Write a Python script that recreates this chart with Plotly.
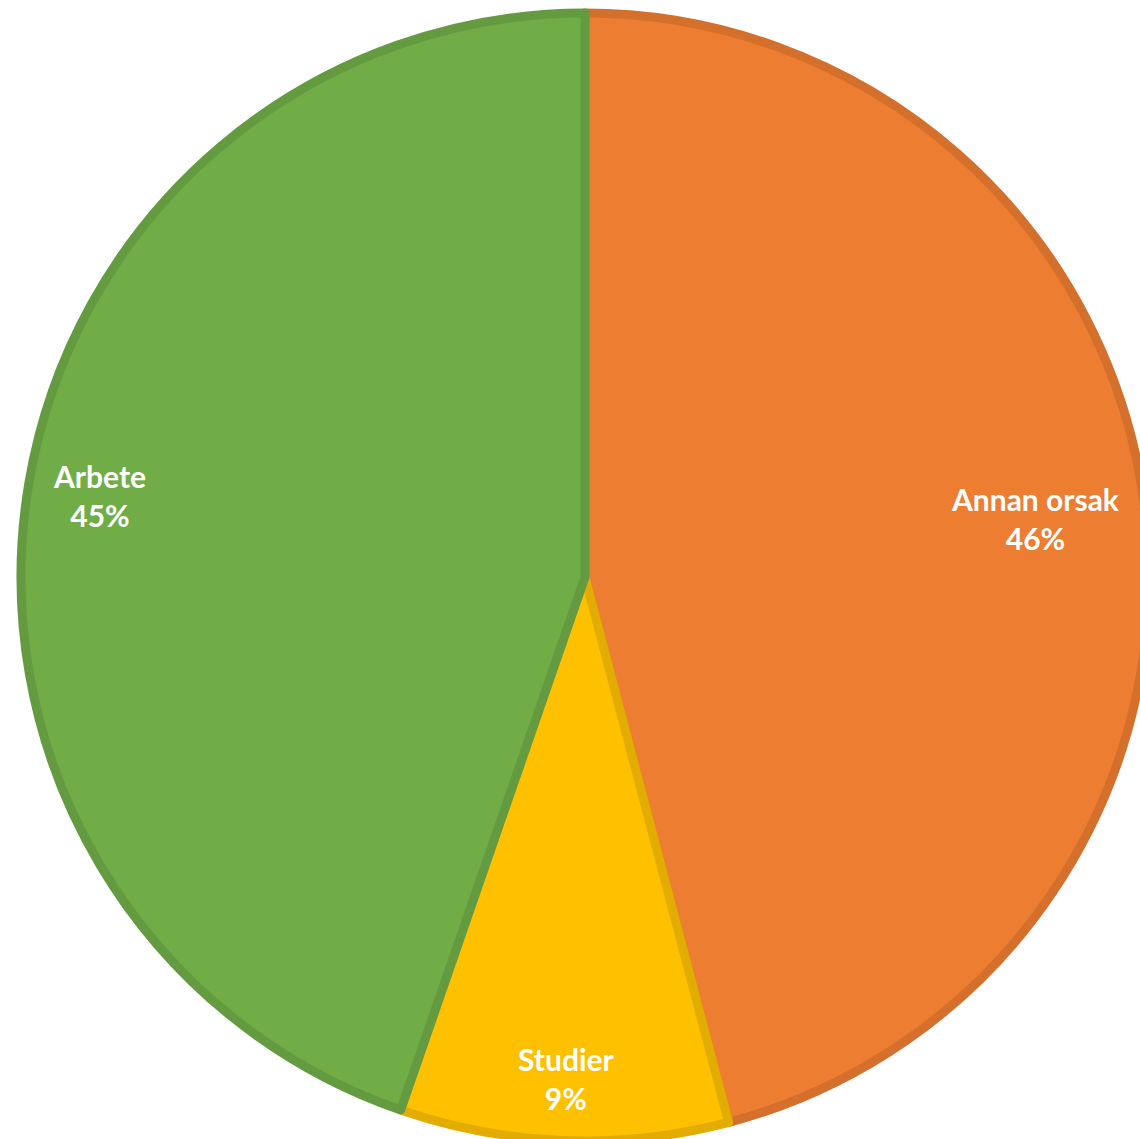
import math
import plotly.graph_objects as go

# ---- data ----
labels = ["Annan orsak", "Studier", "Arbete"]
values = [45.9, 9.4, 44.7]

# ---- styling ----
fill_colors = ["#ED7D31", "#FFC000", "#70AD47"]
line_colors = ["#D4702C", "#E3AC00", "#659B40"]
label_radius = [0.805, 0.89, 0.872]  # fraction of radius where label sits

fig = go.Figure(
    go.Pie(
        labels=labels,
        values=values,
        sort=False,
        direction="clockwise",
        rotation=0,
        textinfo="none",
        hoverinfo="label+percent",
        marker=dict(colors=fill_colors, line=dict(color=line_colors, width=9)),
        domain=dict(x=[0, 1], y=[0, 1]),
        showlegend=False,
    )
)

total = sum(values)
cum = 0.0
annotations = []
for lab, v, f in zip(labels, values, label_radius):
    mid = (cum + v / 2) / total * 2 * math.pi
    cum += v
    annotations.append(
        dict(
            x=0.5 + f * 0.5 * math.sin(mid),
            y=0.5 + f * 0.5 * math.cos(mid),
            xref="paper",
            yref="paper",
            text=f"{lab}<br>{round(v / total * 100)}%",
            showarrow=False,
            xanchor="center",
            yanchor="middle",
            font=dict(family="Lato", size=30, color="white", weight="bold"),
        )
    )

fig.update_layout(
    width=1149,
    height=1141,
    margin=dict(l=21, t=13, r=0, b=0, pad=0),
    paper_bgcolor="white",
    plot_bgcolor="white",
    annotations=annotations,
)

fig.write_html(
    "out.html",
    config={"displayModeBar": False},
    post_script="document.documentElement.style.overflow='hidden';"
    "document.body.style.margin='0';document.body.style.overflow='hidden';",
)
